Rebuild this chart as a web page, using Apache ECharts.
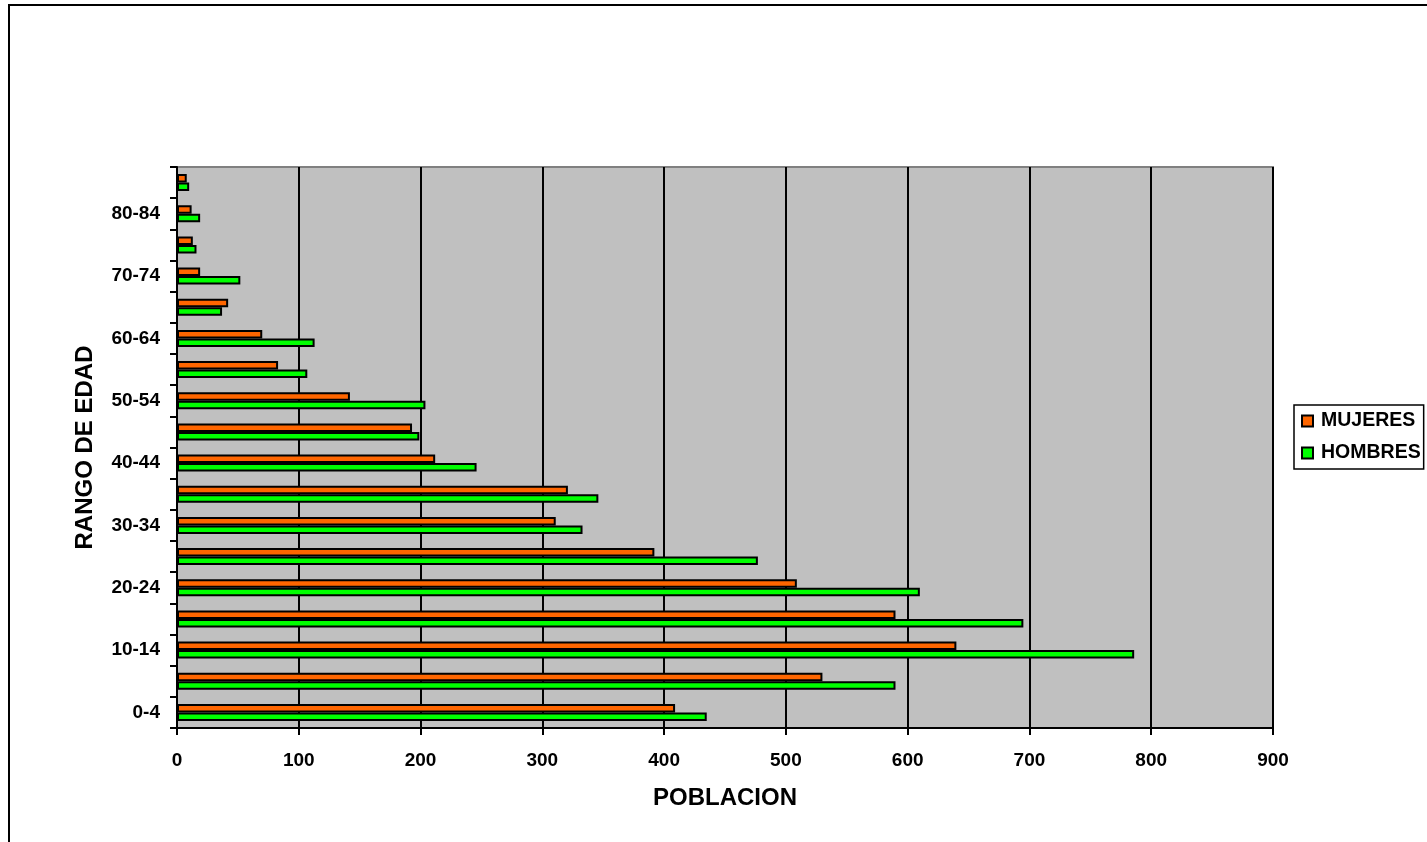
<!DOCTYPE html>
<html>
<head>
<meta charset="utf-8">
<script src="https://cdn.jsdelivr.net/npm/echarts@6/dist/echarts.min.js"></script>
<style>
html,body{margin:0;padding:0;background:#fff;}
#chart{width:1427px;height:842px;}
</style>
</head>
<body>
<div id="chart"></div>
<script>
var categories = ['0-4','5-9','10-14','15-19','20-24','25-29','30-34','35-39','40-44','45-49','50-54','55-59','60-64','65-69','70-74','75-79','80-84','85 y más'];
var mujeres = [409, 530, 640, 590, 509, 392, 311, 321, 212, 193, 142, 83, 70, 42, 19, 13, 12, 8];
var hombres = [435, 590, 786, 695, 610, 477, 333, 346, 246, 199, 204, 107, 113, 37, 52, 16, 19, 10];
var xTicks = {min: 0, max: 900, interval: 100};

var FONT = '"Liberation Sans", Arial, sans-serif';
var chart = echarts.init(document.getElementById('chart'), null, {renderer: 'canvas'});
chart.setOption({
  animation: false,
  backgroundColor: '#ffffff',
  textStyle: {fontFamily: FONT, fontWeight: 'bold', color: '#000'},
  graphic: [{
    type: 'rect', z: 100, silent: true,
    shape: {x: 9, y: 5, width: 1600, height: 1000},
    style: {fill: 'none', stroke: '#000', lineWidth: 2}
  }],
  grid: {
    left: 177, right: 154, top: 167, bottom: 114,
    show: true, backgroundColor: '#C0C0C0', borderColor: '#808080', borderWidth: 2
  },
  legend: {
    orient: 'vertical',
    left: 1294, top: 405,
    data: ['MUJERES', 'HOMBRES'],
    itemWidth: 11, itemHeight: 11, itemGap: 12,
    padding: [6, 3, 6, 7],
    borderColor: '#000', borderWidth: 1.5,
    icon: 'rect',
    itemStyle: {borderColor: '#000', borderWidth: 2},
    textStyle: {fontFamily: FONT, fontWeight: 'bold', fontSize: 19.5, color: '#000', padding: [0, 0, 0, 3]}
  },
  xAxis: {
    type: 'value',
    min: xTicks.min, max: xTicks.max, interval: xTicks.interval,
    name: 'POBLACION', nameLocation: 'middle', nameGap: 58,
    nameTextStyle: {fontFamily: FONT, fontWeight: 'bold', fontSize: 24, color: '#000'},
    axisLine: {show: true, lineStyle: {color: '#000', width: 2}},
    axisTick: {show: true, length: 7, lineStyle: {color: '#000', width: 2}},
    axisLabel: {fontFamily: FONT, fontWeight: 'bold', fontSize: 19, color: '#000', margin: 23},
    splitLine: {show: true, lineStyle: {color: '#000', width: 2}}
  },
  yAxis: {
    type: 'category',
    data: categories,
    name: 'RANGO DE EDAD', nameLocation: 'middle', nameGap: 80, nameRotate: 90,
    nameTextStyle: {fontFamily: FONT, fontWeight: 'bold', fontSize: 24, color: '#000'},
    axisLine: {show: true, lineStyle: {color: '#000', width: 2}},
    axisTick: {show: true, interval: 0, length: 7, alignWithLabel: false, lineStyle: {color: '#000', width: 2}},
    axisLabel: {interval: 1, fontFamily: FONT, fontWeight: 'bold', fontSize: 19, color: '#000', margin: 17},
    splitLine: {show: false}
  },
  series: [
    {
      name: 'MUJERES', type: 'bar', data: mujeres,
      barWidth: 8.5, barGap: '0%',
      itemStyle: {color: '#FF6600', borderColor: '#000', borderWidth: 2}
    },
    {
      name: 'HOMBRES', type: 'bar', data: hombres,
      barWidth: 8.5, barGap: '0%',
      itemStyle: {color: '#00FF00', borderColor: '#000', borderWidth: 2}
    }
  ]
});
</script>
</body>
</html>
